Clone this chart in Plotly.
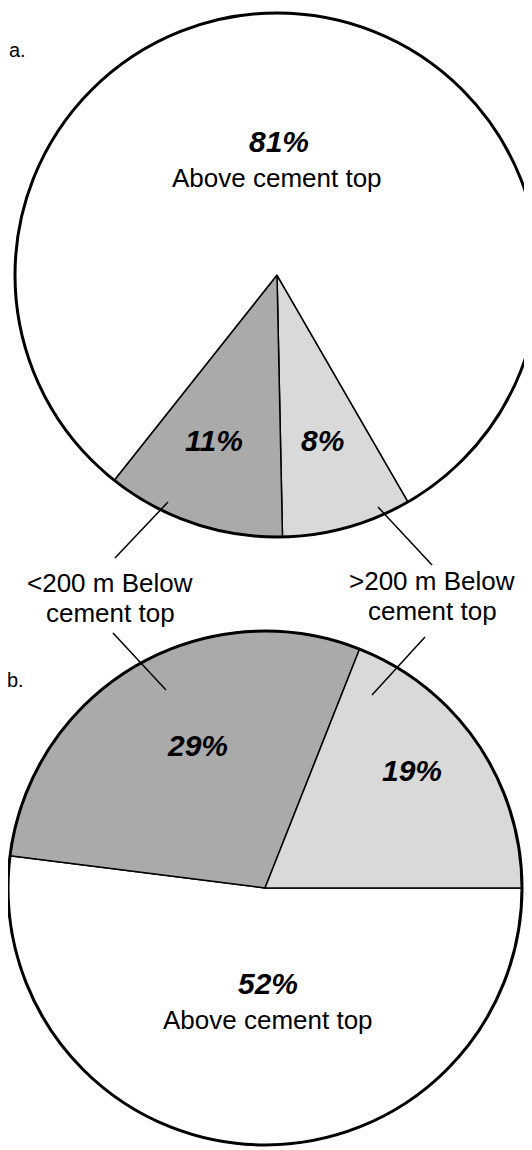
import plotly.graph_objects as go

W, H = 532, 1150
OFF = 8  # page body margin shifts the figure by 8px

# a. all cases
labels_a = ['>200 m Below cement top', '<200 m Below cement top', 'Above cement top']
values_a = [8, 11, 81]
colors_a = ['#d9d9d9', '#aaaaaa', '#ffffff']

# b.
labels_b = ['Above cement top', '<200 m Below cement top', '>200 m Below cement top']
values_b = [52, 29, 19]
colors_b = ['#ffffff', '#aaaaaa', '#d9d9d9']

FONT = 'Arial, Liberation Sans, sans-serif'


def px(x):
    return (x - OFF) / W


def py(y):
    return 1 - (y - OFF) / H


def dom(cx, cy, r):
    return dict(x=[px(cx - r), px(cx + r)], y=[py(cy + r), py(cy - r)])


dom_a = dom(277, 275, 262)
dom_b = dom(265, 888, 257)

fig = go.Figure()

fig.add_trace(go.Pie(
    labels=labels_a, values=values_a, domain=dom_a,
    sort=False, direction='clockwise', rotation=150,
    marker=dict(colors=colors_a, line=dict(color='black', width=1.5)),
    textinfo='none', hoverinfo='label+percent', showlegend=False,
))
fig.add_trace(go.Pie(
    labels=labels_b, values=values_b, domain=dom_b,
    sort=False, direction='clockwise', rotation=90,
    marker=dict(colors=colors_b, line=dict(color='black', width=1.5)),
    textinfo='none', hoverinfo='label+percent', showlegend=False,
))
# thicker outer rim
for d in (dom_a, dom_b):
    fig.add_trace(go.Pie(
        values=[1], labels=['rim'], domain=d, sort=False,
        marker=dict(colors=['rgba(0,0,0,0)'], line=dict(color='black', width=3)),
        textinfo='none', hoverinfo='skip', showlegend=False,
    ))


def note(text, x, y, size=26):
    fig.add_annotation(text=text, x=px(x), y=py(y), xref='paper', yref='paper',
                       showarrow=False, xanchor='center', yanchor='middle',
                       font=dict(family=FONT, size=size, color='black'))


def pct(v):
    return '<b><i>%d%%</i></b>' % v


note('a.', 17, 50, 20)
note('b.', 15, 680, 20)

note(pct(values_a[2]), 279, 141, 30)
note('Above cement top', 277, 178)
note(pct(values_a[1]), 214, 441, 30)
note(pct(values_a[0]), 322, 441, 30)

note('<200 m Below', 110, 583)
note('cement top', 110, 613)
note('>200 m Below', 432, 581)
note('cement top', 432, 611)

note(pct(values_b[1]), 197, 745, 30)
note(pct(values_b[2]), 412, 770, 30)
note(pct(values_b[0]), 268, 983, 30)
note('Above cement top', 268, 1020)

leaders = [
    ((168, 502), (115, 558)),
    ((378, 507), (432, 565)),
    ((113, 633), (166, 690)),
    ((425, 637), (372, 695)),
]
for (x0, y0), (x1, y1) in leaders:
    fig.add_shape(type='line', xref='paper', yref='paper',
                  x0=px(x0), y0=py(y0), x1=px(x1), y1=py(y1),
                  line=dict(color='black', width=1.5))

fig.update_layout(
    width=W, height=H,
    margin=dict(l=0, r=0, t=0, b=0),
    paper_bgcolor='white', plot_bgcolor='white',
    showlegend=False,
)

fig.write_html('out.html')
